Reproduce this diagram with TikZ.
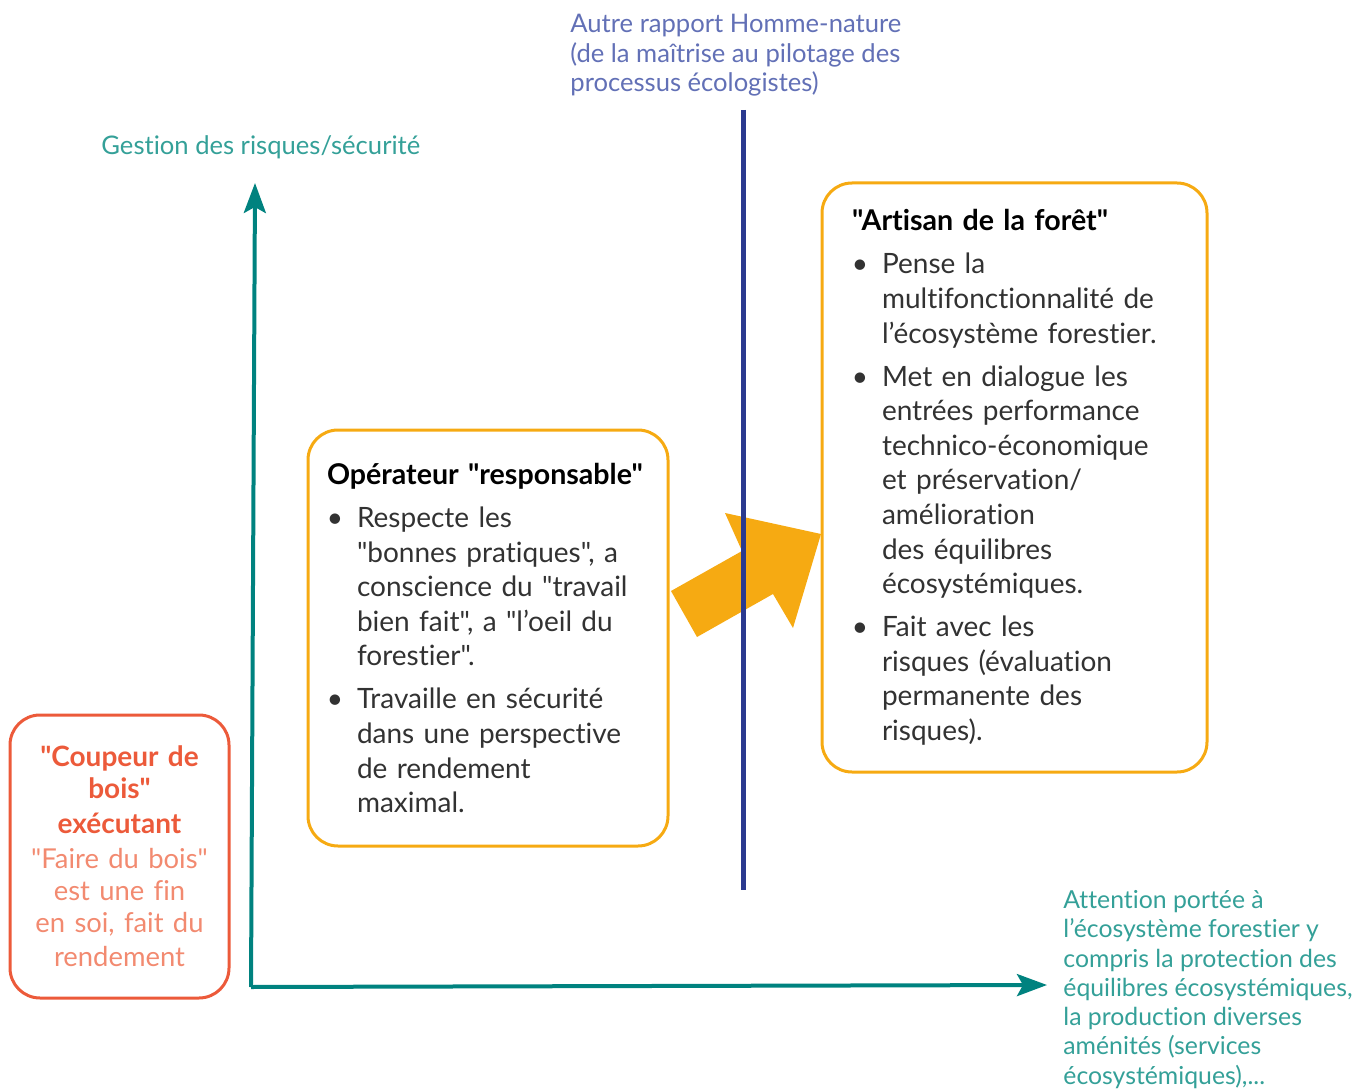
\documentclass[tikz,border=0pt]{standalone}
\usepackage{fontspec}
\setmainfont{Lato}[Ligatures={TeXOff,CommonOff}]
\usetikzlibrary{arrows.meta}

\definecolor{axeteal}{RGB}{0,130,127}
\definecolor{textteal}{RGB}{52,160,152}
\definecolor{pilotblue}{RGB}{43,58,143}
\definecolor{labelblue}{RGB}{98,112,182}
\definecolor{boxorange}{RGB}{246,170,18}
\definecolor{boxred}{RGB}{236,90,58}
\definecolor{lightred}{RGB}{242,138,112}
\definecolor{bodygray}{RGB}{50,50,50}

% bullet item inside a box
\newcommand{\puce}[1]{\par\vspace{4.2pt}{\leftskip=15pt\noindent\llap{\textbullet\hspace{7pt}}#1\par}}
\AtBeginDocument{\lineskiplimit=-10pt\relax}

\begin{document}
\begin{tikzpicture}[x=0.5pt, y=-0.5pt,
  box/.style={draw=boxorange, line width=1.5pt, rounded corners=15pt, align=left, inner ysep=0pt, font=\fontsize{14}{17.3}\selectfont, text=bodygray},
  axe/.style={draw=axeteal, line width=2pt, -{Stealth[length=15pt, width=11pt, inset=3pt]}},
  label/.style={inner sep=0pt, align=left, font=\fontsize{12.8}{14.75}\selectfont}]

\useasboundingbox (0,0) rectangle (1371,1091);

% Nodes
\node[box, draw=boxred, align=center, minimum width=109.5pt, minimum height=141.5pt, text width=100pt, inner xsep=4.75pt] (coupeur) at (119.5,856.5)
  {{\fontsize{14}{16}\selectfont\color{boxred}\textbf{"Coupeur de\\bois"\\exécutant}}\par\vspace{2pt}
   {\fontsize{13.7}{15.8}\selectfont\color{lightred}"Faire du bois"\\est une fin\\en soi, fait du\\rendement}};

\node[box, minimum width=180pt, minimum height=208pt, text width=161pt, inner xsep=9.5pt] (operateur) at (488,638)
  {{\color{black}\fontsize{14.3}{17.3}\selectfont\textbf{Opérateur "responsable"}}
   \puce{Respecte les\\"bonnes pratiques", a\\conscience du "travail\\bien fait", a "l’oeil du\\forestier".}
   \puce{Travaille en sécurité\\dans une perspective\\de rendement\\maximal.}};

\node[box, minimum width=192.5pt, minimum height=294.5pt, text width=162.5pt, inner xsep=15pt] (artisan) at (1014.5,477.5)
  {{\color{black}\fontsize{14.3}{17.3}\selectfont\textbf{"Artisan de la forêt"}}
   \puce{Pense la\\multifonctionnalité de\\l’écosystème forestier.}
   \puce{Met en dialogue les\\entrées performance\\technico-économique\\et préservation/\\amélioration\\des équilibres\\écosystémiques.}
   \puce{Fait avec les\\risques (évaluation\\permanente des\\risques).}};

\node[label, text=textteal, anchor=west] (gestion) at (101,147) {Gestion des risques/sécurité};
\node[label, text=labelblue, anchor=north west] (rapport) at (570,14)
  {Autre rapport Homme-nature\\(de la maîtrise au pilotage des\\processus écologistes)};
\node[label, text=textteal, anchor=north west, font=\fontsize{12.4}{14.65}\selectfont] (attention) at (1063,890)
  {Attention portée à\\l’écosystème forestier y\\compris la protection des\\équilibres écosystémiques,\\la production diverses\\aménités (services\\écosystémiques),...};

\coordinate (origin) at (251,987);
\coordinate (ytop) at (255,183);
\coordinate (xend) at (1047,985);
\coordinate (pilottop) at (743,110);
\coordinate (pilotbot) at (743,890);

% Big arrow
\fill[boxorange] (671,591) -- (742,551) -- (725,513) -- (821,534) -- (793,628) -- (773,594) -- (697,637) -- cycle;

% Arrows
\draw[axe] (origin) -- (ytop);
\draw[axe] (origin) -- (xend);
\draw[pilotblue, line width=2.5pt] (pilottop) -- (pilotbot);

\end{tikzpicture}
\end{document}
